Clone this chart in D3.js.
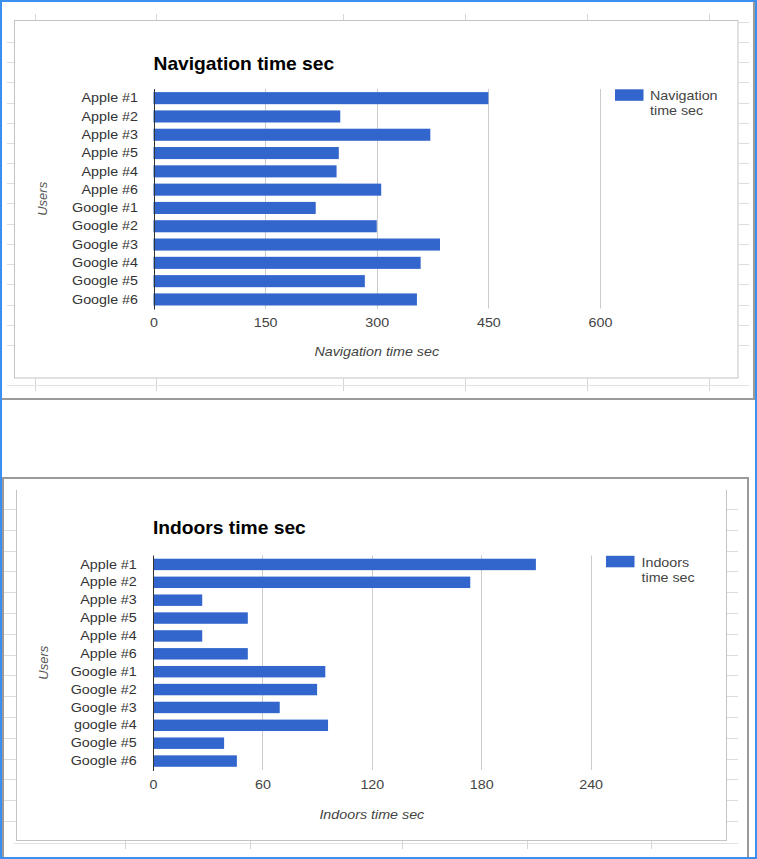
<!DOCTYPE html>
<html><head><meta charset="utf-8">
<script src="https://cdn.jsdelivr.net/npm/d3@7"></script>
<style>
html,body{margin:0;padding:0;background:#fff;}
svg{display:block;font-family:"Liberation Sans",Arial,sans-serif;}
</style></head><body>
<svg id="c" width="757" height="859"></svg>
<script>
// ---- data ----
const navCategories = ["Apple #1","Apple #2","Apple #3","Apple #5","Apple #4","Apple #6","Google #1","Google #2","Google #3","Google #4","Google #5","Google #6"];
const navValues = [450, 251, 372, 249, 246, 306, 218, 300, 385, 359, 284, 354];
const navTicks = [0, 150, 300, 450, 600];
const navTitle = "Navigation time sec";
const navLegend = ["Navigation", "time sec"];

const indoorCategories = ["Apple #1","Apple #2","Apple #3","Apple #5","Apple #4","Apple #6","Google #1","Google #2","Google #3","google #4","Google #5","Google #6"];
const indoorValues = [210, 174, 27, 52, 27, 52, 94.5, 90, 69.5, 96, 39, 46];
const indoorTicks = [0, 60, 120, 180, 240];
const indoorTitle = "Indoors time sec";
const indoorLegend = ["Indoors", "time sec"];

const yAxisTitle = "Users";

// ---- drawing ----
const SX = 1.1; // horizontal stretch of the screenshot text
const BAR = "#3366cc";
const svg = d3.select("#c");

function stretchedText(g, x, y, txt, opts) {
  const t = g.append("text")
    .attr("transform", `translate(${x},${y}) scale(${SX},1)`)
    .attr("text-anchor", opts.anchor || "start")
    .attr("font-size", opts.size || 13)
    .attr("fill", opts.fill || "#333")
    .text(txt);
  if (opts.weight) t.attr("font-weight", opts.weight);
  if (opts.style) t.attr("font-style", opts.style);
  return t;
}

// spreadsheet decorations
function line(x1, y1, x2, y2, c, w) {
  svg.append("line").attr("x1", x1).attr("y1", y1).attr("x2", x2).attr("y2", y2)
    .attr("stroke", c).attr("stroke-width", w || 1);
}

// top panel
svg.append("rect").attr("x", 14.5).attr("y", 20.5).attr("width", 723.5).attr("height", 357.5)
  .attr("fill", "#fff").attr("stroke", "#c4c4c4");
d3.range(0, 17).forEach(n => {
  const y = Math.round(21.7 + 20.2 * n) + 0.5;
  if (n > 0) line(7, y, 14, y, "#dcdcdc");
  line(739, y, 749, y, "#dcdcdc");
});
[35, 156, 343, 465, 587, 709].forEach(x => {
  line(x + 0.5, 14, x + 0.5, 20, "#d6d6d6");
  line(x + 0.5, 379, x + 0.5, 391, "#d6d6d6");
});
line(7, 385.5, 749, 385.5, "#e2e2e2");
line(0, 399, 755, 399, "#9a9a9a", 2);
line(754, 0, 754, 399, "#9a9a9a", 2);

// bottom panel
d3.range(0, 16).forEach(n => {
  const y = Math.round(509 + 20.8 * n) + 0.5;
  line(4, y, 16, y, "#dcdcdc");
  line(727, y, 738, y, "#dcdcdc");
});
line(16.5, 490, 16.5, 840, "#c4c4c4");
line(726.5, 490, 726.5, 840, "#c4c4c4");
line(16, 840.5, 727, 840.5, "#c4c4c4");
line(14, 843.5, 738, 843.5, "#e2e2e2");
[125, 250, 402, 527, 651].forEach(x => line(x + 0.5, 841, x + 0.5, 849, "#d6d6d6"));
line(2, 478, 749, 478, "#9a9a9a", 2);
line(3, 478, 3, 859, "#9a9a9a", 2);
line(748, 478, 748, 859, "#9a9a9a", 2);

function drawChart(cats, vals, ticks, title, legendLines, L) {
  const g = svg.append("g");
  const x = d3.scaleLinear().domain([ticks[0], ticks[ticks.length - 1]]).range([L.x0, L.x1]);
  const y = d3.scaleBand().domain(cats).range([L.y0, L.y1])
    .paddingInner(L.pad).paddingOuter(L.pad / 2);

  // title
  stretchedText(g, L.x0, L.titleY, title, {size: 17.5, weight: "bold", fill: "#000"});

  // gridlines
  g.append("g").selectAll("line").data(ticks.slice(1)).join("line")
    .attr("x1", d => Math.round(x(d)) + 0.5).attr("x2", d => Math.round(x(d)) + 0.5)
    .attr("y1", L.y0).attr("y2", L.y1)
    .attr("stroke", "#cccccc");

  // bars
  g.append("g").selectAll("rect").data(cats).join("rect")
    .attr("x", x(0)).attr("y", d => y(d))
    .attr("width", (d, i) => x(vals[i]) - x(0))
    .attr("height", y.bandwidth())
    .attr("fill", BAR);

  // x axis (tick labels only)
  const xa = g.append("g").attr("transform", `translate(0,${L.y1})`)
    .call(d3.axisBottom(x).tickValues(ticks).tickSize(0).tickPadding(L.tickPad));
  xa.select(".domain").remove();
  xa.selectAll("text").attr("font-size", 13).attr("font-family", null).attr("fill", "#444")
    .attr("transform", `scale(${SX},1)`);

  // y axis (category labels)
  const ya = g.append("g").attr("transform", `translate(${L.x0},0)`)
    .call(d3.axisLeft(y).tickSize(0).tickPadding(L.labelPad / SX));
  ya.select(".domain").remove();
  ya.selectAll("text").attr("font-size", 13).attr("font-family", null).attr("fill", "#333")
    .attr("transform", `scale(${SX},1)`);

  // baseline axis
  g.append("line").attr("x1", Math.round(L.x0) + 0.5).attr("x2", Math.round(L.x0) + 0.5)
    .attr("y1", L.y0).attr("y2", L.y1 + 1).attr("stroke", "#333");

  // axis titles
  stretchedText(g, (L.x0 + L.x1) / 2, L.axisTitleY, title, {anchor: "middle", style: "italic", fill: "#444"});
  g.append("text").attr("transform", `translate(${L.usersX},${(L.y0 + L.y1) / 2}) rotate(-90)`)
    .attr("text-anchor", "middle").attr("dy", "0.35em").attr("font-size", 13)
    .attr("font-style", "italic").attr("fill", "#555").text(yAxisTitle);

  // legend
  g.append("rect").attr("x", L.legX).attr("y", L.legY).attr("width", 28.5).attr("height", 11.5).attr("fill", BAR);
  legendLines.forEach((t, i) => stretchedText(g, L.legTextX, L.legTextY + i * 15, t, {fill: "#444"}));
}

drawChart(navCategories, navValues, navTicks, navTitle, navLegend, {
  x0: 153.5, x1: 600, y0: 89, y1: 308.6, pad: 0.34, tickPad: 9.2, labelPad: 15.5,
  titleY: 70, axisTitleY: 356, usersX: 42,
  legX: 615, legY: 89.3, legTextX: 650, legTextY: 100
});
drawChart(indoorCategories, indoorValues, indoorTicks, indoorTitle, indoorLegend, {
  x0: 153, x1: 590.6, y0: 555.5, y1: 770, pad: 0.36, tickPad: 9.8, labelPad: 16.3,
  titleY: 534, axisTitleY: 819, usersX: 43,
  legX: 606, legY: 555.8, legTextX: 641.5, legTextY: 567
});

// outer blue border
svg.append("rect").attr("x", 1).attr("y", 1).attr("width", 755).attr("height", 857)
  .attr("fill", "none").attr("stroke", "#3b8fef").attr("stroke-width", 2);
</script>
</body></html>
